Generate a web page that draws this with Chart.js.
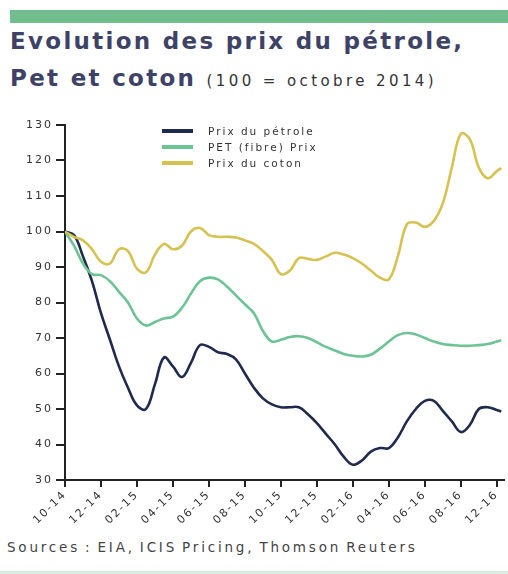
<!DOCTYPE html>
<html>
<head>
<meta charset="utf-8">
<script src="https://cdn.jsdelivr.net/npm/chart.js@4.4.1/dist/chart.umd.min.js"></script>
<style>
  html,body{margin:0;padding:0;background:#fff;}
  body{width:508px;height:574px;position:relative;overflow:hidden;font-family:"DejaVu Sans",sans-serif;}
  .topBar{position:absolute;left:10px;top:10px;width:498px;height:13px;background:#72bd8d;}
  .title{position:absolute;left:10px;top:23px;color:#3d4266;font-weight:bold;font-size:23px;line-height:37px;letter-spacing:2.3px;white-space:nowrap;}
  .title small{font-weight:normal;font-size:15px;letter-spacing:3.4px;color:#333;}
  .chartBox{position:absolute;left:0;top:110px;width:508px;height:420px;}
  .legend{position:absolute;left:162px;top:123px;font-size:10.5px;color:#333;letter-spacing:2px;}
  .legend div{display:flex;align-items:center;height:16px;}
  .legend span.sw{display:inline-block;width:31px;height:4px;margin-right:15px;}
  .source{position:absolute;left:7px;top:539px;font-size:13.5px;color:#444;letter-spacing:2.8px;word-spacing:-2px;}
  .bottomLine{position:absolute;left:0;top:571px;width:508px;height:3px;background:#d8efe0;}
</style>
</head>
<body>
<div class="topBar"></div>
<div class="title">Evolution des prix du pétrole,<br>Pet et coton <small>(100 = octobre 2014)</small></div>
<div class="chartBox"><canvas id="prixChart"></canvas></div>
<div class="legend" id="legend"></div>
<div class="source">Sources : EIA, ICIS Pricing, Thomson Reuters</div>
<div class="bottomLine"></div>
<script>
// months since october 2014 (half-month steps)
const months = [0,0.5,1,1.5,2,2.5,3,3.5,4,4.5,5,5.5,6,6.5,7,7.5,8,8.5,9,9.5,10,10.5,11,11.5,12,12.5,13,13.5,14,14.5,15,15.5,16,16.5,17,17.5,18,18.5,19,19.5,20,20.5,21,21.5,22,22.5,23,23.5,24,24.25];

const tickLabels = ["10-14","12-14","02-15","04-15","06-15","08-15","10-15","12-15","02-16","04-16","06-16","08-16","12-16"];

const petrole = [100,99,93,86,77,69.5,62,56,51,50,57,64.5,62,59,63,68,67.5,66,65.5,64,60,56,53,51.3,50.5,50.5,50.5,48.5,46,43,40,36.5,34.3,35.5,38,39,39,42,46.5,50,52.3,52.3,49.5,46.5,43.5,45.5,50,50.5,49.7,49.3];

const pet = [100,96,91,88,87.7,86,83,80,75.5,73.5,74.5,75.5,76,78.5,82.5,86,87,86.5,84.5,82,79.5,77,72,69,69.5,70.3,70.5,70,68.8,67.5,66.5,65.5,65,64.8,65.3,67,69,70.8,71.4,71,70,69,68.3,68,67.8,67.8,68,68.3,69,69.4];

const coton = [100,98.5,97.5,95,91.5,91,95,94.5,89.5,88.5,93.5,96.5,95,96,100,101,99,98.5,98.5,98.3,97.5,96.5,94.5,92,88,89,92.5,92.3,92,93,94,93.5,92.5,91,89,87,86.5,93,102,102.5,101.3,103,108,118,127.5,126,118,115,117,117.9];

const seriesNames = ["Prix du pétrole","PET (fibre) Prix","Prix du coton"];
const seriesColors = ["#1f2b4e","#6cc394","#d6c251"];

const AXIS = "#222";

function pts(arr){
  return months.map((m,i)=>({x:m, y:arr[i]}));
}

function ds(i, arr){
  return {
    label: seriesNames[i],
    data: pts(arr),
    borderColor: seriesColors[i],
    backgroundColor: seriesColors[i],
    borderWidth: 2.6,
    pointRadius: 0,
    tension: 0.4
  };
}

// the tick text in the picture is wide, spread it a little
const wideText = {
  id: "wideText",
  beforeLayout(chart){ chart.ctx.letterSpacing = "2px"; },
  beforeDraw(chart){ chart.ctx.letterSpacing = "2px"; }
};

// cotton first so the others sit on top
const datasets = [ds(2, coton), ds(1, pet), ds(0, petrole)];

new Chart(document.getElementById("prixChart").getContext("2d"), {
  type: "line",
  data: { datasets },
  plugins: [wideText],
  options: {
    animation: false,
    responsive: true,
    maintainAspectRatio: false,
    layout: { padding: { left: 5, top: 15, right: 4, bottom: 0 } },
    plugins: { legend: { display: false }, tooltip: { enabled: false } },
    scales: {
      x: {
        type: "linear",
        min: 0,
        max: 24.4,
        afterFit: s => { s.height = 50; },
        border: { color: AXIS, width: 2 },
        grid: { drawOnChartArea: false, drawTicks: true, tickLength: 7, color: AXIS, lineWidth: 2 },
        ticks: {
          stepSize: 2,
          includeBounds: false,
          autoSkip: false,
          minRotation: 45,
          maxRotation: 45,
          padding: 1,
          color: "#333",
          font: { family: "DejaVu Sans", size: 11 },
          callback: v => tickLabels[v/2] || ""
        }
      },
      y: {
        min: 30,
        max: 130,
        afterFit: s => { s.width = 60; },
        border: { color: AXIS, width: 2 },
        grid: { drawOnChartArea: false, drawTicks: true, tickLength: 9, color: AXIS, lineWidth: 2 },
        ticks: {
          stepSize: 10,
          padding: 3,
          color: "#333",
          font: { family: "DejaVu Sans", size: 11 }
        }
      }
    }
  }
});

// legend
const legend = document.getElementById("legend");
seriesNames.forEach((n,i)=>{
  const row = document.createElement("div");
  row.innerHTML = `<span class="sw" style="background:${seriesColors[i]}"></span>${n}`;
  legend.appendChild(row);
});
</script>
</body>
</html>
